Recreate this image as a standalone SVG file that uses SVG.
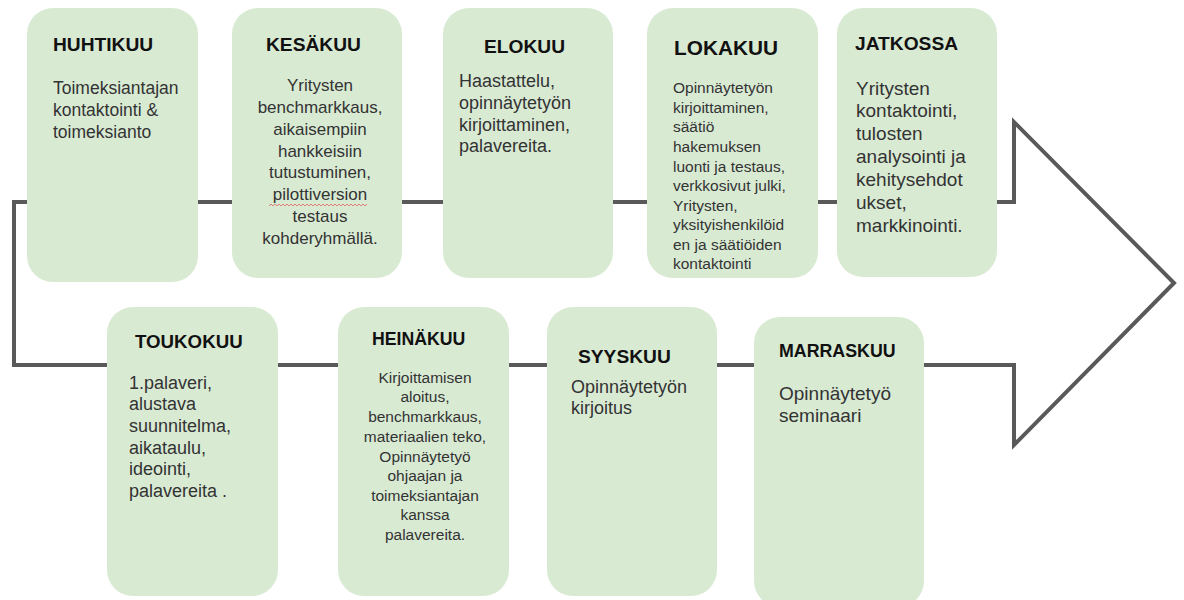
<svg xmlns="http://www.w3.org/2000/svg" width="1184" height="600" viewBox="0 0 1184 600">
<style>
.box{fill:#d9ead3;}
.t{font-family:"Liberation Sans",Arial,sans-serif;font-weight:bold;fill:#111;font-size:19.2px;}
.b{font-family:"Liberation Sans",Arial,sans-serif;fill:#333;font-size:17.5px;}
.c{text-anchor:middle;}
.conn{fill:none;stroke:#595959;stroke-width:4;stroke-linejoin:miter;}
</style>
<rect width="1184" height="600" fill="#fff"/>
<g id="connectors">
<polygon class="conn" points="14,202 1014,202 1014,122 1174,283 1014,445 1014,365 14,365"/>
</g>
<g id="huhtikuu">
<rect class="box" x="27" y="8" width="171" height="274" rx="26"/>
<text class="t" x="53" y="51">HUHTIKUU</text>
<text class="b" x="53" y="94">Toimeksiantajan</text>
<text class="b" x="53" y="116">kontaktointi &amp;</text>
<text class="b" x="53" y="138">toimeksianto</text>
</g>
<g id="kesakuu">
<rect class="box" x="232" y="8" width="170" height="270" rx="26"/>
<text class="t" x="266" y="51">KESÄKUU</text>
<g class="b c" style="font-size:17px">
<text x="320" y="91">Yritysten</text>
<text x="320" y="113">benchmarkkaus,</text>
<text x="320" y="135">aikaisempiin</text>
<text x="320" y="157">hankkeisiin</text>
<text x="320" y="178">tutustuminen,</text>
<text x="320" y="200">pilottiversion</text>
<text x="320" y="222">testaus</text>
<text x="320" y="244">kohderyhmällä.</text>
</g>
<path d="M269,206 l2,-2 l2,2 l2,-2 l2,2 l2,-2 l2,2 l2,-2 l2,2 l2,-2 l2,2 l2,-2 l2,2 l2,-2 l2,2 l2,-2 l2,2 l2,-2 l2,2 l2,-2 l2,2 l2,-2 l2,2 l2,-2 l2,2 l2,-2 l2,2 l2,-2 l2,2 l2,-2 l2,2 l2,-2 l2,2 l2,-2 l2,2 l2,-2 l2,2 l2,-2 l2,2 l2,-2 l2,2 l2,-2 l2,2 l2,-2 l2,2 l2,-2 l2,2 l2,-2 l2,2 l2,-2" fill="none" stroke="#e06666" stroke-width="0.8"/>
</g>
<g id="elokuu">
<rect class="box" x="443" y="8" width="170" height="270" rx="26"/>
<text class="t" x="484" y="53">ELOKUU</text>
<text class="b" x="459" y="87" style="font-size:18px">Haastattelu,</text>
<text class="b" x="459" y="109" style="font-size:18px">opinnäytetyön</text>
<text class="b" x="459" y="131" style="font-size:18px">kirjoittaminen,</text>
<text class="b" x="459" y="152" style="font-size:18px">palavereita.</text>
</g>
<g id="lokakuu">
<rect class="box" x="647" y="8" width="171" height="270" rx="26"/>
<text class="t" x="674" y="55" style="font-size:20.8px">LOKAKUU</text>
<g class="b" style="font-size:15.5px">
<text x="673" y="93">Opinnäytetyön</text>
<text x="673" y="113">kirjoittaminen,</text>
<text x="673" y="132">säätiö</text>
<text x="673" y="152">hakemuksen</text>
<text x="673" y="172">luonti ja testaus,</text>
<text x="673" y="191">verkkosivut julki,</text>
<text x="673" y="211">Yritysten,</text>
<text x="673" y="230">yksityishenkilöid</text>
<text x="673" y="250">en ja säätiöiden</text>
<text x="673" y="269">kontaktointi</text>
</g>
</g>
<g id="jatkossa">
<rect class="box" x="837" y="8" width="160" height="269" rx="26"/>
<text class="t" x="855" y="50">JATKOSSA</text>
<g class="b" style="font-size:19px">
<text x="856" y="95">Yritysten</text>
<text x="856" y="117">kontaktointi,</text>
<text x="856" y="140">tulosten</text>
<text x="856" y="163">analysointi ja</text>
<text x="856" y="186">kehitysehdot</text>
<text x="856" y="209">ukset,</text>
<text x="856" y="232">markkinointi.</text>
</g>
</g>
<g id="toukokuu">
<rect class="box" x="107" y="307" width="171" height="289" rx="26"/>
<text class="t" x="135" y="348" style="font-size:18.7px">TOUKOKUU</text>
<g class="b" style="font-size:18px">
<text x="129" y="389">1.palaveri,</text>
<text x="129" y="410">alustava</text>
<text x="129" y="432">suunnitelma,</text>
<text x="129" y="454">aikataulu,</text>
<text x="129" y="475">ideointi,</text>
<text x="129" y="497">palavereita .</text>
</g>
</g>
<g id="heinakuu">
<rect class="box" x="338" y="307" width="171" height="289" rx="26"/>
<text class="t" x="372" y="345" style="font-size:17.7px">HEINÄKUU</text>
<g class="b c" style="font-size:15.5px">
<text x="425" y="383">Kirjoittamisen</text>
<text x="425" y="402">aloitus,</text>
<text x="425" y="422">benchmarkkaus,</text>
<text x="425" y="442">materiaalien teko,</text>
<text x="425" y="462">Opinnäytetyö</text>
<text x="425" y="481">ohjaajan ja</text>
<text x="425" y="501">toimeksiantajan</text>
<text x="425" y="520">kanssa</text>
<text x="425" y="540">palavereita.</text>
</g>
</g>
<g id="syyskuu">
<rect class="box" x="547" y="307" width="170" height="289" rx="26"/>
<text class="t" x="578" y="363">SYYSKUU</text>
<text class="b" x="571" y="393" style="font-size:18px">Opinnäytetyön</text>
<text class="b" x="571" y="414" style="font-size:18px">kirjoitus</text>
</g>
<g id="marraskuu">
<rect class="box" x="754" y="317" width="170" height="290" rx="26"/>
<text class="t" x="779" y="357" style="font-size:17.8px">MARRASKUU</text>
<text class="b" x="779" y="400" style="font-size:19px">Opinnäytetyö</text>
<text class="b" x="779" y="422" style="font-size:19px">seminaari</text>
</g>
</svg>
